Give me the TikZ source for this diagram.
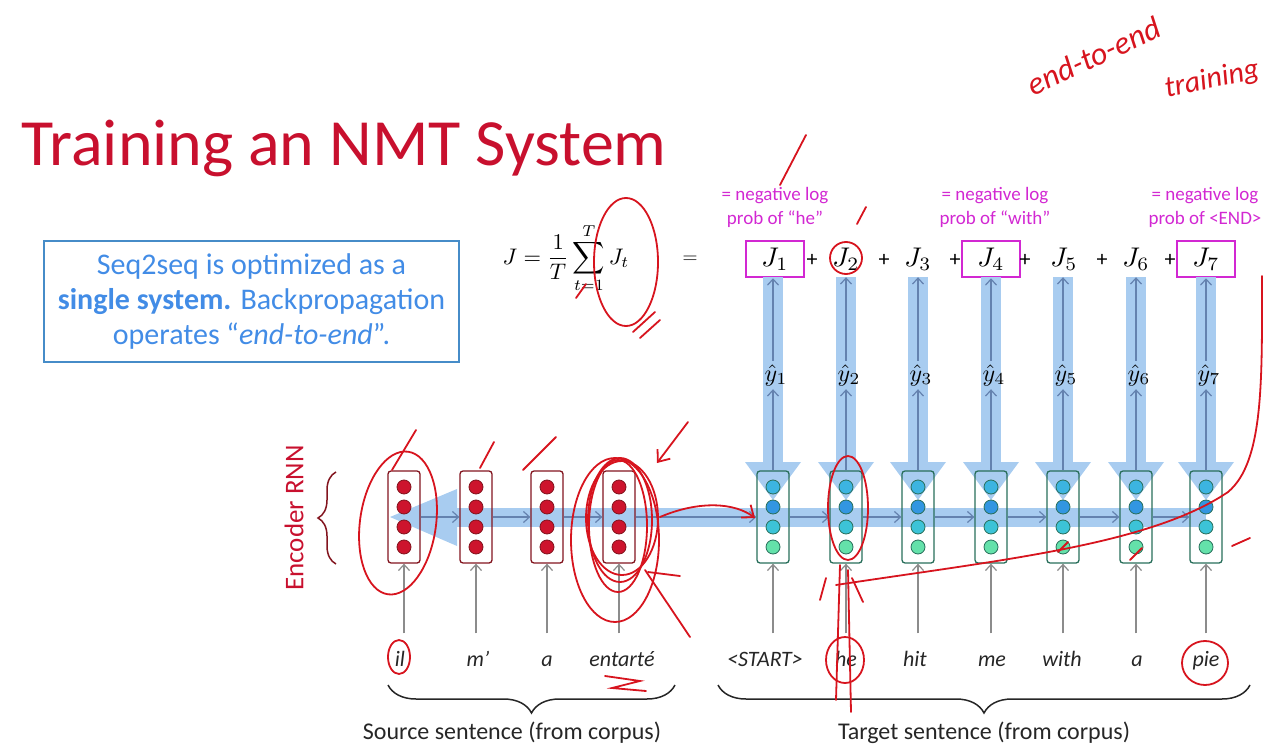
\documentclass[tikz,border=0pt]{standalone}
\usepackage{graphicx}
\usepackage{fontspec}
\setmainfont{Carlito}
\usetikzlibrary{positioning,decorations.pathreplacing,arrows.meta}

\definecolor{titlered}{RGB}{200,16,46}
\definecolor{boxblue}{RGB}{70,140,200}
\definecolor{textblue}{RGB}{66,140,230}
\definecolor{lossmag}{RGB}{210,40,210}
\definecolor{bandblue}{RGB}{168,204,240}
\definecolor{flowblue}{RGB}{100,130,175}
\definecolor{encred}{RGB}{205,20,45}
\definecolor{encdark}{RGB}{130,20,30}
\definecolor{decborder}{RGB}{40,110,90}
\definecolor{decA}{RGB}{60,180,225}
\definecolor{decB}{RGB}{50,150,225}
\definecolor{decC}{RGB}{60,195,215}
\definecolor{decD}{RGB}{100,225,170}
\definecolor{penred}{RGB}{215,20,30}

% math set large
\newcommand{\lossmath}[2][2.7]{\scalebox{#1}{$#2$}}

\begin{document}
\begin{tikzpicture}[x=1pt,y=-1pt,
    enc/.style={draw=encdark, line width=1.3pt, rounded corners=3pt, minimum width=32pt, minimum height=92pt, inner sep=0pt},
    dec/.style={enc, draw=decborder},
    flow/.style={-{Straight Barb[length=6pt,width=11pt]}, line width=1.2pt, draw=flowblue},
    feed/.style={-{Straight Barb[length=6pt,width=11pt]}, line width=1.2pt, draw=black!45, shorten <=13pt},
    word/.style={anchor=base, text height=16pt, text depth=5pt, text=black!85, font=\fontsize{22}{26}\selectfont\itshape},
    jterm/.style={minimum width=58pt, minimum height=36pt, inner sep=0pt},
    picked/.style={jterm, draw=lossmag, line width=2.5pt},
    plus/.style={font=\fontsize{22}{26}\selectfont},
    note/.style={text=lossmag, align=center, font=\fontsize{19}{24}\selectfont},
    band/.style={fill=bandblue},
    pen/.style={draw=penred, line width=1.8pt, line cap=round},
    under/.style={decorate, decoration={brace, mirror, amplitude=28pt}, line width=1.5pt, draw=black!85},
    caption/.style={text=black!85, font=\fontsize{24}{28}\selectfont}]
    \useasboundingbox (0,0) rectangle (1283,752);

    % Title and summary
    \node[anchor=base west, text=titlered, font=\fontsize{66}{72}\selectfont] (title) at (18,165) {Training an NMT System};
    \node[draw=boxblue, line width=1.5pt, minimum width=415pt, minimum height=121pt, align=center, text=textblue,
        font=\fontsize{30}{35}\selectfont] (summary) at (251.5,301.5)
        {Seq2seq is optimized as a\\ \textbf{single system.} Backpropagation\\ operates “\textit{end-to-end}”.};

    % Loss
    \node[inner sep=0pt] (lossdef) at (566,258) {\lossmath[2.25]{\displaystyle J=\frac{1}{T}\sum_{t=1}^{T}J_t}};
    \node[plus] (eq) at (690,260) {$=$};
    \node[picked] (j1) at (775,259) {\lossmath{J_1}};
    \node[jterm] (j2) at (846,259) {\lossmath{J_2}};
    \node[jterm] (j3) at (918,259) {\lossmath{J_3}};
    \node[picked] (j4) at (991,259) {\lossmath{J_4}};
    \node[jterm] (j5) at (1064,259) {\lossmath{J_5}};
    \node[jterm] (j6) at (1136,259) {\lossmath{J_6}};
    \node[picked] (j7) at (1206,259) {\lossmath{J_7}};
    \foreach \x in {812,884,955,1025,1102,1170}
        \node[plus] at (\x,260) {+};
    \node[note] (neg1) at (775,207) {= negative log\\prob of “he”};
    \node[note] (neg4) at (995,207) {= negative log\\prob of “with”};
    \node[note] (neg7) at (1205,207) {= negative log\\prob of <END>};

    % Backpropagation bands
    \foreach \x in {773,846,918,991,1063,1136,1206} {
        \fill[band] (\x-10,277) rectangle (\x+10,462);
        \fill[band] (\x-28,462) -- (\x+28,462) -- (\x,500) -- cycle;
    }
    \fill[band] (457,508) rectangle (1206,527);
    \fill[band] (457,489) -- (457,546) -- (390,517) -- cycle;

    % Encoder
    \foreach \x [count=\i] in {404,476,547,619} {
        \node[enc] (e\i) at (\x,517) {};
        \foreach \y in {487,507,527,547}
            \draw[fill=encred, draw=encdark, line width=0.8pt] (\x,\y) circle (7pt);
    }
    % Decoder
    \foreach \x [count=\i] in {773,846,918,991,1063,1136,1206} {
        \node[dec] (d\i) at (\x,517) {};
        \draw[fill=decA, draw=decborder, line width=0.8pt] (\x,487) circle (7pt);
        \draw[fill=decB, draw=decborder, line width=0.8pt] (\x,507) circle (7pt);
        \draw[fill=decC, draw=decborder, line width=0.8pt] (\x,527) circle (7pt);
        \draw[fill=decD, draw=decborder, line width=0.8pt] (\x,547) circle (7pt);
        \node (yh\i) at (\x+3,375) {\lossmath[2.4]{\hat{y}_{\i}}};
        \draw[flow] (d\i.north) -- (d\i.north |- yh\i.south);
        \draw[flow] (d\i.north |- yh\i.north) -- (d\i.north |- j\i.south);
    }
    \foreach \a/\b in {e1/e2,e2/e3,e3/e4,e4/d1,d1/d2,d2/d3,d3/d4,d4/d5,d5/d6,d6/d7}
        \draw[flow] (\a.east) -- (\b.west);

    % Words
    \foreach \x/\w [count=\i] in {400/il,478/m’,547/a,622/entarté}
        \node[word] (src\i) at (\x,666) {\w};
    \foreach \x/\w [count=\i] in {765/<START>,846/he,915/hit,992/me,1062/with,1137/a,1206/pie}
        \node[word] (tgt\i) at (\x,666) {\w};
    \foreach \i in {1,...,4}
        \draw[feed] (e\i.south |- src\i.north) -- (e\i.south);
    \foreach \i in {1,...,7}
        \draw[feed] (d\i.south |- tgt\i.north) -- (d\i.south);

    % Braces
    \draw[under] (388,685) -- (675,685);
    \draw[under] (718,685) -- (1250,685);
    \node[caption] (srclab) at (512,733) {Source sentence (from corpus)};
    \node[caption] (tgtlab) at (984,733) {Target sentence (from corpus)};
    \draw[decorate, decoration={brace, amplitude=18pt}, line width=1.5pt, draw=encdark] (336,564) -- (336,472);
    \node[rotate=90, text=titlered, font=\fontsize{27}{30}\selectfont] (encname) at (294,518) {Encoder RNN};

    % Pen notes
    \node[rotate=25, text=penred, font=\fontsize{32}{36}\selectfont\itshape] (pen1) at (1094,56) {end-to-end};
    \node[rotate=12, text=penred, font=\fontsize{30}{34}\selectfont\itshape] (pen2) at (1212,80) {training};
    \draw[pen] (626,262) ellipse (32 and 64);
    \draw[pen] (576,298) -- (586,284);
    \draw[pen] (633,332) -- (655,312);
    \draw[pen] (640,338) -- (660,320);
    \draw[pen] (780,185) -- (806,135);
    \draw[pen] (857,224) -- (866,207);
    \draw[pen] (846,258) circle (16);
    \draw[pen, rotate around={-8:(398,523)}] (398,523) ellipse (38 and 72);
    \draw[pen] (392,470) -- (416,430);
    \draw[pen] (480,468) -- (494,442);
    \draw[pen] (523,470) -- (556,437);
    \draw[pen] (620,520) ellipse (32 and 62);
    \draw[pen] (622,518) ellipse (36 and 57);
    \draw[pen] (618,526) ellipse (29 and 66);
    \draw[pen] (615,540) ellipse (44 and 82);
    \draw[pen, -{Straight Barb[length=10pt,width=16pt]}] (688,422) -- (657,463);
    \draw[pen] (645,570) -- (690,637);
    \draw[pen] (648,572) -- (680,576);
    \draw[pen, -{Straight Barb[length=10pt,width=16pt]}] (660,517) .. controls (700,500) and (735,503) .. (755,518);
    \draw[pen] (605,676) -- (640,681) -- (612,688) -- (646,691);
    \draw[pen] (399,657) ellipse (11 and 17);
    \draw[pen] (848,508) ellipse (20 and 52);
    \draw[pen] (845,660) ellipse (19 and 23);
    \draw[pen] (840,565) -- (836,700);
    \draw[pen] (848,570) -- (851,712);
    \draw[pen] (826,578) -- (820,600);
    \draw[pen] (852,578) -- (863,602);
    \draw[pen] (1205,663) ellipse (23 and 22);
    \draw[pen] (836,585) .. controls (1000,560) and (1150,545) .. (1228,492)
        .. controls (1264,462) and (1262,380) .. (1262,276);
    \draw[pen] (1232,546) -- (1250,538);
    \draw[pen] (1058,552) -- (1068,542);
    \draw[pen] (1130,560) -- (1142,548);
\end{tikzpicture}
\end{document}
